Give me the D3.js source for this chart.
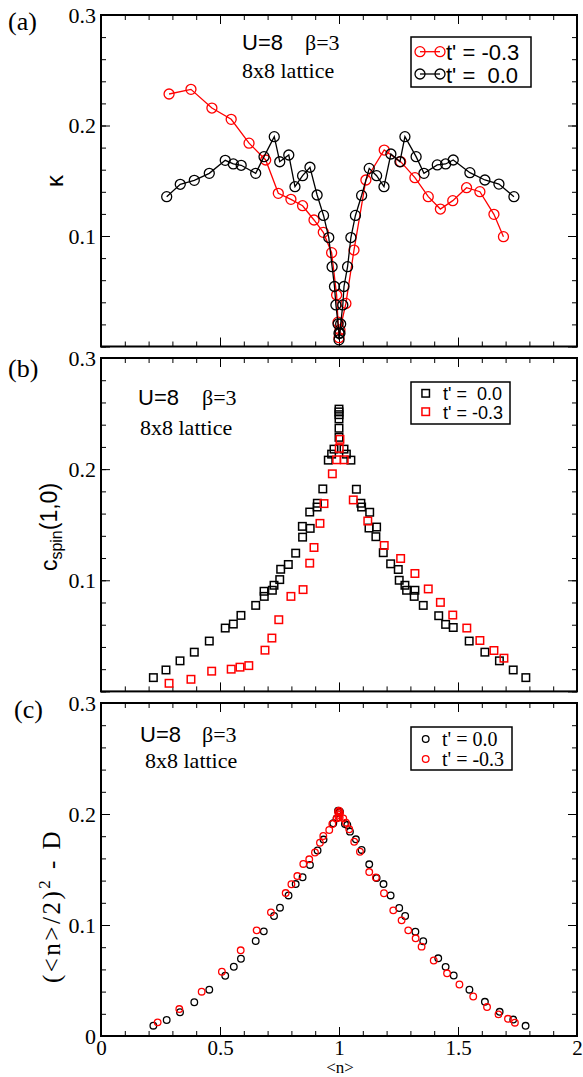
<!DOCTYPE html>
<html>
<head>
<meta charset="utf-8">
<script src="https://cdn.jsdelivr.net/npm/d3@7"></script>
<style>
  body { margin: 0; background: #fff; }
  svg text { fill: #000; white-space: pre; }
  .serif { font-family: "Liberation Serif", "Times New Roman", serif; }
  .sans { font-family: "Liberation Sans", Arial, sans-serif; }
</style>
</head>
<body>
<svg id="fig" width="583" height="1077"></svg>
<script>
  // panel (a): kappa vs <n>
  const kappaTm03 = [[0.286,0.2285],[0.378,0.2327],[0.466,0.2158],[0.547,0.2056],[0.622,0.184],[0.692,0.1688],
    [0.745,0.1386],[0.798,0.1332],[0.847,0.1274],[0.895,0.1145],[0.934,0.1033],[0.969,0.0849],[0.990,0.0466],
    [0.996,0.022],[1.0,0.008],[1.004,0.015],[1.029,0.039],[1.063,0.0873],[1.113,0.1507],[1.19,0.1778],
    [1.259,0.1673],[1.319,0.1528],[1.375,0.1356],[1.426,0.1244],[1.478,0.132],[1.536,0.1437],[1.592,0.1401],
    [1.651,0.1196],[1.691,0.0994]];
  const kappaT00 = [[0.276,0.1356],[0.333,0.1468],[0.392,0.1504],[0.455,0.1567],[0.522,0.1685],[0.556,0.1652],
    [0.589,0.164],[0.650,0.1567],[0.685,0.1718],[0.728,0.1899],[0.751,0.1672],[0.789,0.1733],[0.815,0.1446],
    [0.847,0.1546],[0.878,0.1622],[0.908,0.1371],[0.935,0.1186],[0.957,0.0986],[0.971,0.0722],[0.981,0.0543],
    [0.987,0.0376],[0.996,0.0204],[1.0,0.012],[1.0,0.006],[1.004,0.012],[1.007,0.0204],[1.016,0.0376],
    [1.021,0.0543],[1.036,0.0722],[1.050,0.0986],[1.069,0.1186],[1.095,0.1367],[1.127,0.1612],[1.158,0.1546],
    [1.189,0.1446],[1.218,0.1742],[1.256,0.1672],[1.277,0.1899],[1.324,0.1718],[1.357,0.1567],[1.413,0.1643],
    [1.448,0.1652],[1.480,0.1688],[1.550,0.1573],[1.613,0.1507],[1.672,0.147],[1.735,0.1356]];

  // panel (b): c_spin(1,0)
  const cspinT00 = [[0.220,0.0124],[0.273,0.0193],[0.332,0.0275],[0.392,0.0353],[0.455,0.0453],[0.522,0.0570],
    [0.556,0.0606],[0.588,0.0684],[0.650,0.0774],[0.686,0.0855],[0.685,0.0901],[0.720,0.0910],[0.727,0.0955],
    [0.751,0.1006],[0.755,0.1099],[0.787,0.1142],[0.818,0.1244],[0.847,0.1388],[0.846,0.1485],[0.879,0.1467],
    [0.877,0.1614],[0.908,0.1659],[0.909,0.1693],[0.932,0.1822],[0.955,0.2081],[0.969,0.2135],[0.979,0.218],
    [1.0,0.2286],[1.0,0.2368],[1.0,0.2452],[1.0,0.2515],[1.0,0.249],[1.0,0.254],
    [1.021,0.218],[1.031,0.2135],[1.050,0.2081],[1.073,0.1819],[1.092,0.1693],[1.095,0.1659],[1.129,0.1612],
    [1.158,0.1479],[1.126,0.1470],[1.155,0.1392],[1.186,0.1248],[1.217,0.1148],[1.249,0.1097],[1.253,0.1000],
    [1.277,0.0955],[1.284,0.0910],[1.319,0.0910],[1.316,0.0855],[1.354,0.0774],[1.419,0.0681],[1.448,0.0603],
    [1.480,0.0575],[1.547,0.0453],[1.613,0.0353],[1.674,0.0275],[1.732,0.0193],[1.785,0.0124]];
  const cspinTm03 = [[0.286,0.0073],[0.378,0.0109],[0.465,0.0182],[0.547,0.0200],[0.584,0.0218],[0.621,0.0232],
    [0.689,0.0371],[0.718,0.0480],[0.747,0.0645],[0.798,0.0855],[0.849,0.0916],[0.877,0.1154],[0.895,0.1295],
    [0.920,0.1512],[0.937,0.1690],[0.972,0.1958],[0.990,0.2084],[1.022,0.2084],[1.001,0.2187],[1.004,0.2268],
    [1.060,0.1723],[1.121,0.1533],[1.190,0.1313],[1.259,0.1196],[1.319,0.1061],[1.375,0.0922],[1.426,0.0801],
    [1.478,0.0687],[1.537,0.0570],[1.592,0.0458],[1.651,0.0368],[1.693,0.0299]];

  // panel (c): (<n>/2)^2 - D
  const dblT00 = [[0.220,0.0093],[0.276,0.0144],[0.332,0.0214],[0.392,0.0304],[0.455,0.0417],[0.522,0.0543],
    [0.558,0.0624],[0.588,0.0696],[0.650,0.0856],[0.684,0.0943],[0.727,0.1081],[0.752,0.1156],[0.788,0.1266],
    [0.818,0.1369],[0.847,0.1430],[0.878,0.1541],[0.910,0.1671],[0.935,0.1770],[0.976,0.1916],[0.990,0.1961],
    [1.0,0.2009],[1.004,0.2021],[0.996,0.203],
    [1.025,0.1910],[1.035,0.1901],[1.046,0.1841],[1.071,0.1772],[1.095,0.1676],[1.127,0.1547],[1.158,0.1423],
    [1.187,0.1369],[1.217,0.1266],[1.253,0.1153],[1.278,0.1081],[1.321,0.0940],[1.354,0.0854],[1.417,0.0700],
    [1.448,0.0623],[1.482,0.0545],[1.548,0.0417],[1.613,0.0308],[1.675,0.0218],[1.732,0.0148],[1.784,0.0092]];
  const dblTm03 = [[0.238,0.0123],[0.329,0.0243],[0.423,0.0399],[0.508,0.0579],[0.587,0.0772],[0.654,0.0952],
    [0.714,0.1114],[0.776,0.1288],[0.800,0.1367],[0.825,0.1441],[0.850,0.1550],[0.875,0.1592],[0.899,0.1653],
    [0.920,0.1741],[0.934,0.1802],[0.959,0.1856],[0.972,0.1910],[0.990,0.1961],[1.001,0.1991],[1.004,0.2009],
    [0.996,0.2018],[1.0,0.203],[0.998,0.197],[1.003,0.197],
    [1.018,0.1961],[1.029,0.1922],[1.043,0.1862],[1.064,0.1750],[1.088,0.1660],[1.127,0.1477],[1.155,0.1428],
    [1.189,0.1286],[1.228,0.1132],[1.263,0.1042],[1.291,0.0952],[1.322,0.0880],[1.347,0.0805],[1.398,0.0680],
    [1.454,0.0565],[1.506,0.0464],[1.564,0.0356],[1.622,0.0261],[1.670,0.0195],[1.710,0.0155],[1.739,0.0120]];

  const xMajor = [0, 0.5, 1, 1.5, 2];
  const yMajor = [0, 0.1, 0.2, 0.3];
  const xMinor = d3.range(0, 21).map(i => i / 10);
  const yMinor = d3.range(0, 16).map(i => i * 0.02);

  const svg = d3.select('#fig');
  const L = 101, R = 577;
  const x = d3.scaleLinear().domain([0, 2]).range([L, R]);
  const ya = d3.scaleLinear().domain([0, 0.3]).range([346.5, 15]);
  const yb = d3.scaleLinear().domain([0, 0.3]).range([691.4, 358]);
  const yc = d3.scaleLinear().domain([0, 0.3]).range([1036, 703]);

  function styleAxis(sel, labels, size) {
    sel.select('.domain').remove();
    sel.selectAll('line').attr('stroke', '#000').attr('stroke-width', 1);
    sel.selectAll('text').attr('class', 'serif').attr('font-size', size || 22).attr('fill', '#000');
    if (!labels) sel.selectAll('text').remove();
  }

  function frame(y, showX, showY0) {
    const top = y.range()[1], bot = y.range()[0];
    const g = svg.append('g');
    const yfmt = d => d === 0 ? (showY0 ? '0' : '') : d.toFixed(1);
    const sides = [
      [d3.axisLeft, y, `translate(${L},0)`, yMinor, yMajor, yfmt, true],
      [d3.axisRight, y, `translate(${R},0)`, yMinor, yMajor, null, false],
      [d3.axisBottom, x, `translate(0,${bot})`, xMinor, xMajor, d => String(d), showX],
      [d3.axisTop, x, `translate(0,${top})`, xMinor, xMajor, null, false]
    ];
    sides.forEach(([ax, sc, tr, minor, major, fmt, lab]) => {
      const isX = ax === d3.axisBottom;
      g.append('g').attr('transform', tr)
        .call(ax(sc).tickValues(minor).tickSize(-5).tickFormat(''))
        .call(s => styleAxis(s, false));
      g.append('g').attr('transform', tr)
        .call(ax(sc).tickValues(major).tickSize(-9).tickPadding(isX ? 4 : 5)
          .tickFormat(fmt || (() => '')))
        .call(s => styleAxis(s, lab, isX ? 21 : 22));
    });
    g.append('rect').attr('x', L).attr('y', top).attr('width', R - L).attr('height', bot - top)
      .attr('fill', 'none').attr('stroke', '#000').attr('stroke-width', 2);
  }

  function txt(cls, size, px, py, s) {
    return svg.append('text').attr('class', cls).attr('font-size', size)
      .attr('x', px).attr('y', py).text(s);
  }

  // ---- panel (a)
  frame(ya, false, false);
  const line = y => d3.line().x(d => x(d[0])).y(d => y(d[1]));
  [[kappaTm03, 'red'], [kappaT00, 'black']].forEach(([data, col]) => {
    svg.append('path').datum(data).attr('d', line(ya)).attr('fill', 'none')
      .attr('stroke', col).attr('stroke-width', 1.3);
    svg.append('g').selectAll('circle').data(data).join('circle')
      .attr('cx', d => x(d[0])).attr('cy', d => ya(d[1])).attr('r', 5)
      .attr('fill', 'none').attr('stroke', col).attr('stroke-width', 1.3);
  });

  // ---- panel (b)
  frame(yb, false, false);
  const sq = 7.5;
  [[cspinT00, 'black'], [cspinTm03, 'red']].forEach(([data, col]) => {
    svg.append('g').selectAll('rect').data(data).join('rect')
      .attr('x', d => x(d[0]) - sq / 2).attr('y', d => yb(d[1]) - sq / 2)
      .attr('width', sq).attr('height', sq)
      .attr('fill', 'none').attr('stroke', col).attr('stroke-width', 1.5);
  });

  // ---- panel (c)
  frame(yc, true, true);
  [[dblT00, 'black'], [dblTm03, 'red']].forEach(([data, col]) => {
    svg.append('g').selectAll('circle').data(data).join('circle')
      .attr('cx', d => x(d[0])).attr('cy', d => yc(d[1])).attr('r', 3.3)
      .attr('fill', 'none').attr('stroke', col).attr('stroke-width', 1.3);
  });

  // panel tags
  txt('serif', 26, 8, 30, '(a)');
  txt('serif', 26, 8, 377, '(b)');
  txt('serif', 26, 14, 718, '(c)');

  // annotations
  [[242, 50, 78], [138, 405, 435]].forEach(([px, b1, b2], i) => {
    txt('sans', 22, px, b1, 'U=8');
    txt('serif', 22, px + (i === 0 ? 63 : 64), b1, 'β=3');
    txt('serif', 22, px + (i === 0 ? 0 : 2), b2, '8x8 lattice');
  });
  txt('sans', 22, 140, 742, 'U=8');
  txt('serif', 22, 202, 742, 'β=3');
  txt('serif', 22, 145, 768, '8x8 lattice');

  // legend (a)
  svg.append('rect').attr('x', 411).attr('y', 37).attr('width', 120).attr('height', 50)
    .attr('fill', '#fff').attr('stroke', '#000').attr('stroke-width', 1.5);
  [['red', 51.7, 60, "t' = -0.3"], ['black', 74, 83, "t' =  0.0"]].forEach(([col, cy, by, s]) => {
    svg.append('line').attr('x1', 420).attr('x2', 440).attr('y1', cy).attr('y2', cy)
      .attr('stroke', col).attr('stroke-width', 1.3);
    [420, 440].forEach(cx => svg.append('circle').attr('cx', cx).attr('cy', cy).attr('r', 5)
      .attr('fill', 'none').attr('stroke', col).attr('stroke-width', 1.3));
    txt('sans', 22, 446, by, s);
  });

  // legend (b)
  svg.append('rect').attr('x', 411).attr('y', 382).attr('width', 99).attr('height', 42)
    .attr('fill', '#fff').attr('stroke', '#000').attr('stroke-width', 1.5);
  [['black', 393.3, 400, "t' =  0.0"], ['red', 411.7, 419, "t' = -0.3"]].forEach(([col, cy, by, s]) => {
    svg.append('rect').attr('x', 425.7 - sq / 2).attr('y', cy - sq / 2).attr('width', sq).attr('height', sq)
      .attr('fill', 'none').attr('stroke', col).attr('stroke-width', 1.5);
    txt('sans', 18, 443, by, s);
  });

  // legend (c)
  svg.append('rect').attr('x', 411).attr('y', 727).attr('width', 101).attr('height', 43)
    .attr('fill', '#fff').attr('stroke', '#000').attr('stroke-width', 1.5);
  [['black', 739, 746, "t' = 0.0"], ['red', 759, 766, "t' = -0.3"]].forEach(([col, cy, by, s]) => {
    svg.append('circle').attr('cx', 425.7).attr('cy', cy).attr('r', 3.3)
      .attr('fill', 'none').attr('stroke', col).attr('stroke-width', 1.3);
    txt('serif', 20, 442, by, s);
  });

  // axis titles
  svg.append('text').attr('class', 'sans').attr('font-size', 24)
    .attr('transform', 'translate(63,181) rotate(-90)').attr('text-anchor', 'middle').text('κ');

  const tb = svg.append('text').attr('class', 'sans').attr('font-size', 23)
    .attr('transform', 'translate(57,527) rotate(-90)').attr('text-anchor', 'middle');
  tb.append('tspan').text('c');
  tb.append('tspan').attr('font-size', 16).attr('dy', 5).text('spin');
  tb.append('tspan').attr('dy', -5).text('(1,0)');

  const tc = svg.append('text').attr('class', 'serif').attr('font-size', 25)
    .attr('letter-spacing', 2.5)
    .attr('transform', 'translate(60,906) rotate(-90)').attr('text-anchor', 'middle');
  tc.append('tspan').text('(<n>/2)');
  tc.append('tspan').attr('font-size', 17).attr('dy', -10).text('2');
  tc.append('tspan').attr('dy', 10).text(' - D');

  txt('serif', 17, 340, 1073, '<n>').attr('text-anchor', 'middle');
</script>
</body>
</html>
